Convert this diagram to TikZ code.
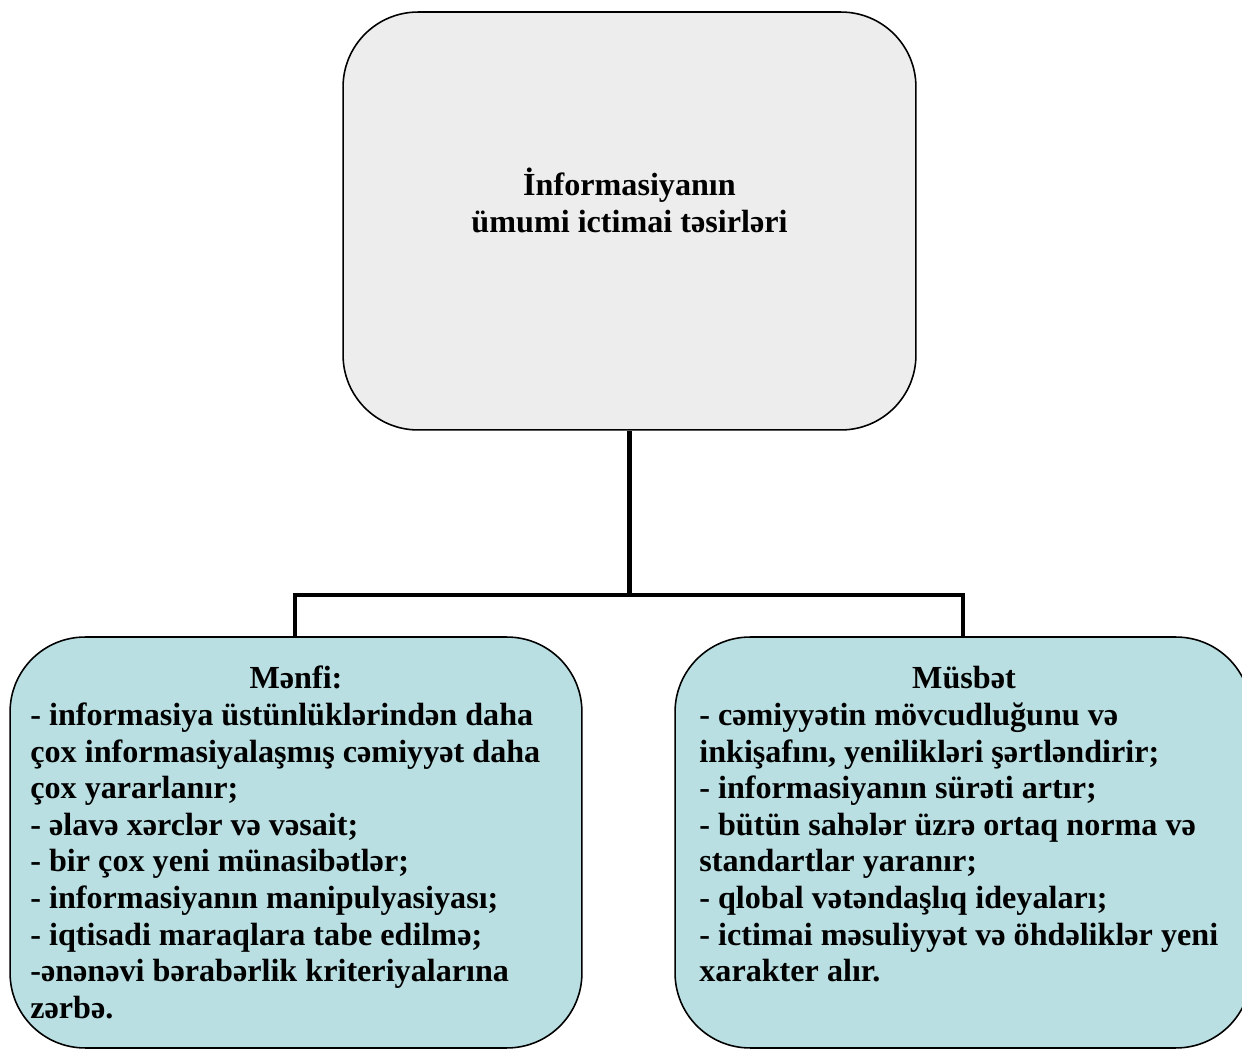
\documentclass[tikz,border=0pt]{standalone}
\usepackage{fontspec}
\setmainfont{Liberation Serif}
\usepackage{tikz}

\definecolor{topfill}{HTML}{EDEDED}
\definecolor{subfill}{HTML}{B9DFE2}

\tikzset{
    box/.style = {draw = black, line width = 0.9pt, rounded corners = 1.5cm, inner sep = 0pt},
    txt/.style = {inner sep = 0pt, font = \fontsize{18.3}{21}\selectfont\bfseries},
    link/.style = {black, line width = 2.8pt}
}

\begin{document}
\begin{tikzpicture}[x = 0.02cm, y = -0.02cm]
            \useasboundingbox (0, 0) rectangle (1242, 1050);
            \begin{scope}
            \clip (0, 0) rectangle (1242, 1050);

            \node[box, fill = topfill, minimum width = 11.46cm, minimum height = 8.36cm] (top) at (629.5, 221) {};
            \node[box, fill = subfill, minimum width = 11.44cm, minimum height = 8.22cm] (neg) at (296, 842.5) {};
            \node[box, fill = subfill, minimum width = 11.52cm, minimum height = 8.22cm] (pos) at (963, 842.5) {};

            \coordinate (fork) at (629.5, 595);
            \draw[link] (top.south) -- (fork);
            \draw[link] (neg.north -| 295, 0) |- (fork) -| (pos.north);

            \node[txt, anchor = base] (title1) at (629.5, 196) {İnformasiyanın};
            \node[txt, anchor = base] (title2) at (629.5, 233) {ümumi ictimai təsirləri};

            \node[txt, anchor = base] (neghead) at (296, 689) {Mənfi:};
            \foreach \t [count = \i] in {
                {- informasiya üstünlüklərindən daha},
                {çox informasiyalaşmış cəmiyyət daha},
                {çox yararlanır;},
                {- əlavə xərclər və vəsait;},
                {- bir çox yeni münasibətlər;},
                {- informasiyanın manipulyasiyası;},
                {- iqtisadi maraqlara tabe edilmə;},
                {-ənənəvi bərabərlik kriteriyalarına},
                {zərbə.}}
                \node[txt, anchor = base west] (neg\i) at (30, 689 + 36.6*\i) {\t};

            \node[txt, anchor = base] (poshead) at (964, 689) {Müsbət};
            \foreach \t [count = \i] in {
                {- cəmiyyətin mövcudluğunu və},
                {inkişafını, yenilikləri şərtləndirir;},
                {- informasiyanın sürəti artır;},
                {- bütün sahələr üzrə ortaq norma və},
                {standartlar yaranır;},
                {- qlobal vətəndaşlıq ideyaları;},
                {- ictimai məsuliyyət və öhdəliklər yeni},
                {xarakter alır.}}
                \node[txt, anchor = base west] (pos\i) at (699, 689 + 36.6*\i) {\t};
            \end{scope}
        \end{tikzpicture}
\end{document}
